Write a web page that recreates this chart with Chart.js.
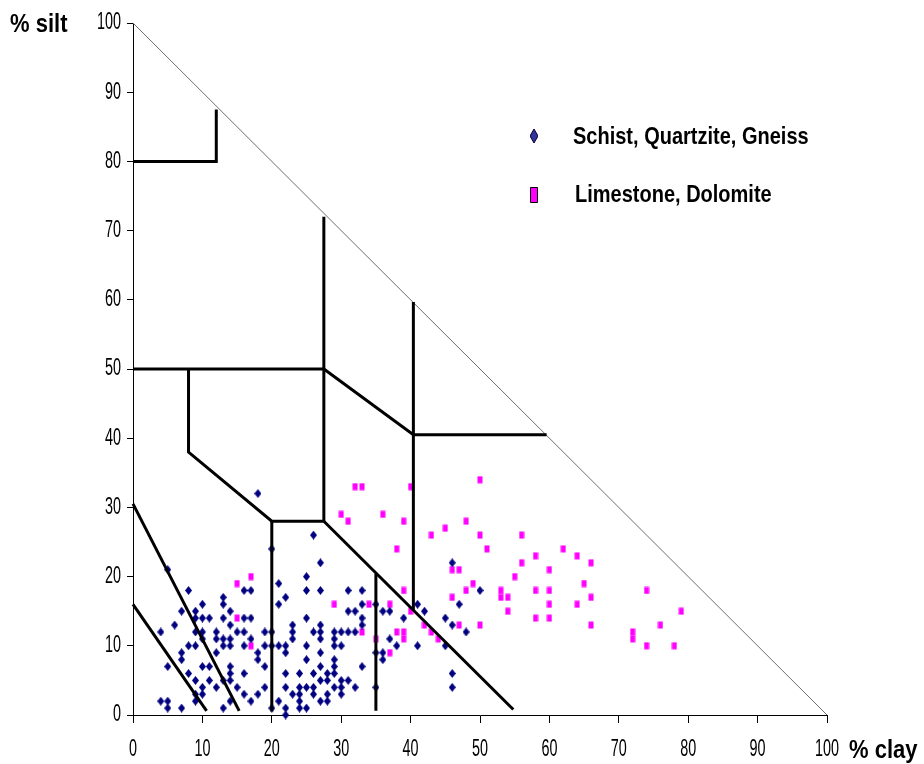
<!DOCTYPE html>
<html lang="en">
<head>
  <meta charset="UTF-8" />
  <title>% silt vs % clay</title>
  <script src="https://cdn.jsdelivr.net/npm/chart.js"></script>
  <style>
    html, body { margin: 0; padding: 0; background: #fff; }
    #wrap { width: 924px; height: 764px; }
  </style>
</head>
<body>
<div id="wrap"><canvas id="chart" width="924" height="764"></canvas></div>
<script>
  // [% clay, % silt]
  const schistPoints = [
    [5,21],[8,18],[7,15],[10,16],[9,15],[9,14],[10,14],[11,14],[6,13],[4,12],[9,12],[10,12],[10,11],
    [8,10],[9,10],[7,9],[7,8],[5,7],[8,6],[9,5],[10,7],[11,7],[11,5],[10,4],[10,3],[9,3],[9,2],
    [4,2],[5,2],[5,1],[7,1],[12,12],[12,11],[13,11],[13,10],[14,10],[14,11],[15,12],[16,12],[16,10],
    [17,11],[13,14],[14,13],[14,15],[13,16],[13,17],[16,18],[17,18],[16,14],[17,14],[12,9],[18,9],
    [18,8],[19,12],[19,10],[19,7],[19,4],[18,3],[17,2],[16,3],[15,4],[14,7],[14,6],[14,5],[13,5],
    [12,4],[14,2],[13,1],[16,6],[21,19],[21,16],[21,10],[21,2],[20,24],[20,12],[20,10],[20,1],[18,32],
    [26,26],[27,22],[25,20],[25,18],[27,18],[22,17],[25,14],[23,13],[23,12],[23,11],[26,12],[27,13],
    [27,12],[27,11],[29,12],[29,11],[29,10],[30,12],[30,10],[31,12],[32,12],[31,18],[33,18],[33,16],
    [31,15],[32,15],[33,14],[33,13],[22,10],[22,9],[25,10],[25,8],[27,9],[27,7],[29,8],[29,7],[29,6],
    [22,6],[24,6],[26,6],[28,6],[27,5],[28,5],[30,5],[31,5],[30,4],[29,4],[32,4],[33,7],[22,4],[23,3],
    [25,4],[26,4],[26,3],[24,4],[24,3],[24,2],[24,1],[25,1],[27,2],[28,2],[28,3],[30,3],[22,1],[22,0],
    [35,16],[36,15],[37,15],[39,14],[41,16],[37,11],[36,9],[36,8],[35,9],[38,10],[35,4],[41,10],
    [46,22],[50,18],[42,15],[47,16],[45,14],[46,13],[48,12],[45,10],[46,6],[46,4]
  ];
  const limestonePoints = [
    [15,19],[17,20],[15,14],[17,10],
    [32,33],[33,33],[40,33],[50,34],[30,29],[36,29],[31,28],[39,28],[48,28],[45,27],[43,26],[50,26],
    [56,26],[38,24],[51,24],[56,22],[46,21],[47,21],[55,20],[49,19],[48,18],[53,18],[53,17],[54,17],
    [54,15],[39,18],[46,17],[29,16],[34,16],[37,16],[40,15],[42,13],[47,13],[50,13],[43,12],[44,11],
    [39,12],[39,11],[38,12],[33,12],[35,11],[37,9],
    [62,24],[58,23],[64,23],[60,21],[66,22],[65,19],[58,18],[60,18],[66,17],[60,16],[64,16],[58,14],
    [60,14],[66,13],[74,18],[79,15],[76,13],[72,12],[72,11],[74,10],[78,10]
  ];
  // class boundaries, drawn as polylines
  const boundaries = [
    [[0,80],[12,80],[12,87.5]],
    [[0,50],[27.5,50],[27.5,72]],
    [[27.5,50],[27.5,28]],
    [[8,50],[8,38],[20,28],[27.5,28]],
    [[20,28],[20,0.5]],
    [[27.5,50],[40.4,40.5],[59.6,40.5]],
    [[40.4,59.7],[40.4,15.2]],
    [[27.5,28],[54.8,0.8]],
    [[35,20.4],[35,0.6]],
    [[0,30.5],[15.3,0.6]],
    [[0,16],[10.6,0.6]]
  ];
  const hypotenuse = [[0,100],[100,0]];
  const tickLabels = [0, 10, 20, 30, 40, 50, 60, 70, 80, 90, 100];

  const toXY = arr => arr.map(p => ({ x: p[0], y: p[1] }));

  function makeMarker(w, h, shape, fill, stroke) {
    const c = document.createElement('canvas');
    c.width = w; c.height = h;
    const g = c.getContext('2d');
    g.beginPath();
    if (shape === 'diamond') {
      g.moveTo(w / 2, 0); g.lineTo(w, h / 2); g.lineTo(w / 2, h); g.lineTo(0, h / 2); g.closePath();
    } else {
      g.rect(0.5, 0.5, w - 1, h - 1);
    }
    g.fillStyle = fill;
    g.fill();
    if (stroke) { g.strokeStyle = stroke; g.lineWidth = 1; g.stroke(); }
    return c;
  }

  const blueMark = makeMarker(7, 9, 'diamond', '#000080');
  const pinkMark = makeMarker(6, 8, 'rect', '#ff00ff');
  const blueLegend = makeMarker(8, 14, 'diamond', '#333399', '#000033');
  const pinkLegend = makeMarker(8, 16, 'rect', '#ff00ff', '#000000');

  const datasets = [];
  boundaries.forEach(b => datasets.push({
    data: toXY(b), showLine: true, borderColor: '#000', borderWidth: 3,
    pointRadius: 0, fill: false, clip: false
  }));
  datasets.push({
    data: toXY(hypotenuse), showLine: true, borderColor: '#6e6e6e', borderWidth: 1,
    pointRadius: 0, fill: false, clip: false
  });
  datasets.push({
    label: 'Schist, Quartzite, Gneiss', data: toXY(schistPoints),
    pointStyle: blueMark, pointRadius: 3, clip: false
  });
  datasets.push({
    label: 'Limestone, Dolomite', data: toXY(limestonePoints),
    pointStyle: pinkMark, pointRadius: 3, clip: false
  });

  // the original's text is squeezed sideways and stretched upward
  function stretched(ctx, txt, x, y, font, sx, sy, align) {
    ctx.save();
    ctx.font = font;
    ctx.textAlign = align || 'left';
    ctx.translate(x, y);
    ctx.scale(sx, sy);
    ctx.fillText(txt, 0, 0);
    ctx.restore();
  }

  const textPlugin = {
    id: 'texts',
    afterDraw(chart) {
      const ctx = chart.ctx;
      const xs = chart.scales.x, ys = chart.scales.y;
      ctx.save();
      ctx.fillStyle = '#000';
      ctx.textBaseline = 'middle';
      const tickFont = '18px "Liberation Sans", Arial, sans-serif';
      tickLabels.forEach(v => {
        stretched(ctx, String(v), xs.getPixelForValue(v), 750, tickFont, 0.8, 1.3, 'center');
        stretched(ctx, String(v), 121, ys.getPixelForValue(v), tickFont, 0.8, 1.3, 'right');
      });
      ctx.textBaseline = 'alphabetic';
      const bold = 'bold 22px "Liberation Sans", Arial, sans-serif';
      stretched(ctx, '% silt', 10, 32, bold, 1, 1.2);
      stretched(ctx, '% clay', 849, 758, bold, 1, 1.2);
      ctx.drawImage(blueLegend, 534 - 4, 136 - 7);
      ctx.drawImage(pinkLegend, 534 - 4, 195 - 8);
      const legendFont = 'bold 20px "Liberation Sans", Arial, sans-serif';
      stretched(ctx, 'Schist, Quartzite, Gneiss', 573, 144, legendFont, 1, 1.2);
      stretched(ctx, 'Limestone, Dolomite', 575, 202, legendFont, 1, 1.2);
      ctx.restore();
    }
  };

  new Chart(document.getElementById('chart'), {
    type: 'scatter',
    data: { datasets },
    options: {
      responsive: false,
      devicePixelRatio: 1,
      animation: false,
      events: [],
      layout: { padding: { top: 23, right: 97, left: 0, bottom: 0 } },
      plugins: { legend: { display: false }, tooltip: { enabled: false } },
      scales: {
        x: {
          type: 'linear', min: 0, max: 100,
          ticks: { stepSize: 10, display: false },
          grid: { drawOnChartArea: false, drawTicks: true, tickLength: 8, color: '#000' },
          border: { display: true, color: '#000', width: 1 },
          afterFit: s => { s.height = 49; }
        },
        y: {
          type: 'linear', min: 0, max: 100,
          ticks: { stepSize: 10, display: false },
          grid: { drawOnChartArea: false, drawTicks: true, tickLength: 6, color: '#000' },
          border: { display: true, color: '#000', width: 1 },
          afterFit: s => { s.width = 133; }
        }
      }
    },
    plugins: [textPlugin]
  });
</script>
</body>
</html>
